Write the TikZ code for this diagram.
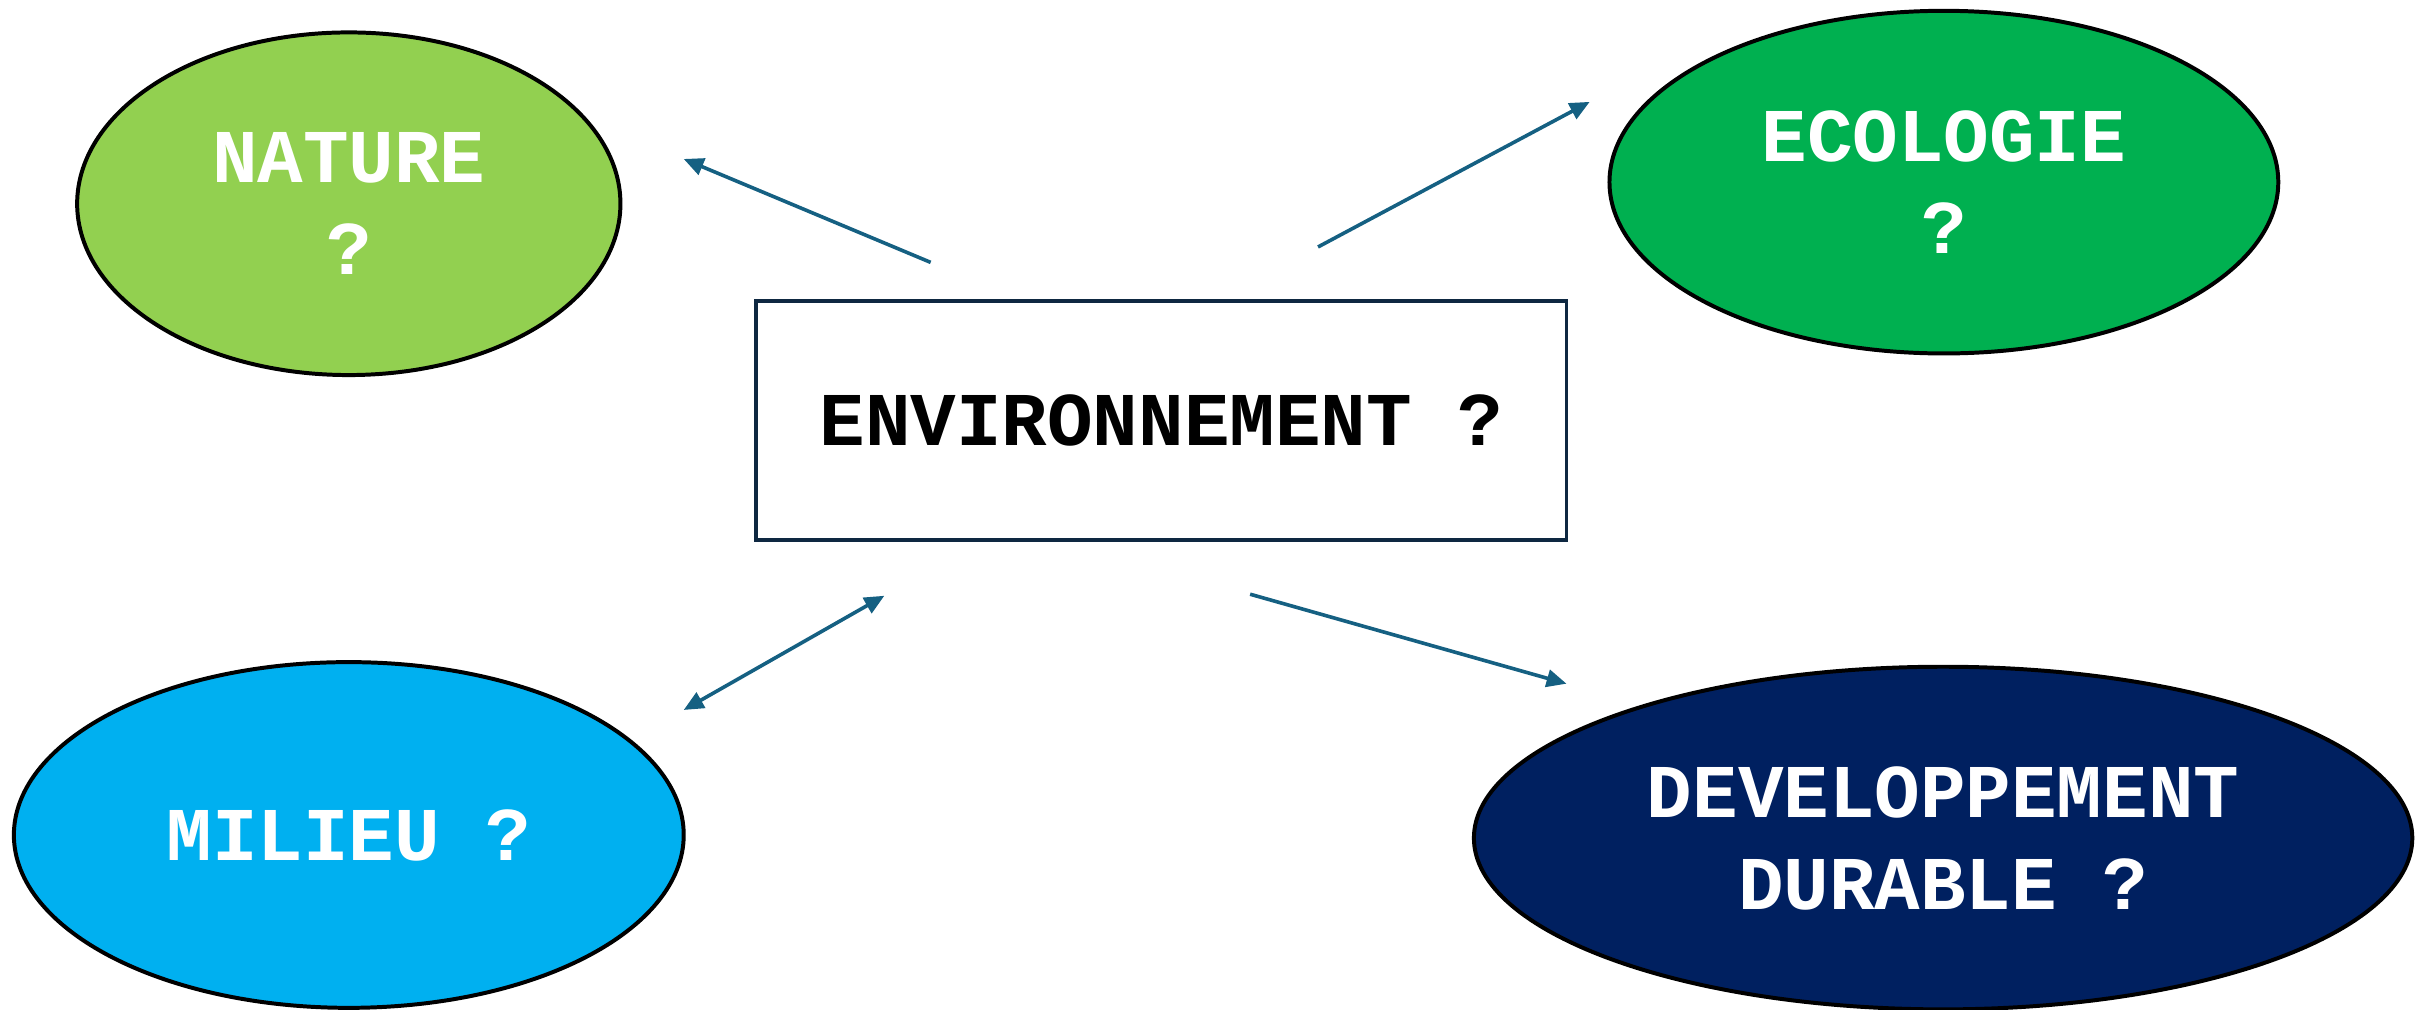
\documentclass[tikz,border=0pt]{standalone}
\usepackage{fontspec}
\setmonofont{Liberation Mono}
\usetikzlibrary{shapes.geometric,arrows.meta}
\definecolor{vertclair}{HTML}{92D050}
\definecolor{vert}{HTML}{00B050}
\definecolor{bleuciel}{HTML}{00B0F0}
\definecolor{bleunuit}{HTML}{002060}
\definecolor{bleufleche}{HTML}{156082}
\definecolor{bordcadre}{HTML}{0E2841}
\tikzset{
  pointe/.tip={Triangle[length=5.5pt,width=4.8pt]},
  texte/.style={font=\ttfamily\bfseries\fontsize{21}{25.4}\selectfont, align=center},
  bulle/.style={texte, ellipse, draw=black, line width=1.1pt, inner sep=0pt, text=white},
  fleche/.style={draw=bleufleche, line width=1pt, -pointe}
}
\begin{document}
\begin{tikzpicture}[x=0.015cm,y=-0.015cm]
\useasboundingbox (0,0) rectangle (1568,654);
\node[texte, draw=bordcadre, line width=1pt, minimum width=7.875cm, minimum height=2.325cm] (env) at (752.5,272.5) {ENVIRONNEMENT ?};

\node[bulle, fill=vertclair, minimum width=5.28cm, minimum height=3.33cm] (nature) at (226,132) {NATURE\\?};
\node[bulle, fill=vert, minimum width=6.5cm, minimum height=3.33cm] (ecologie) at (1259.5,118) {ECOLOGIE\\?};
\node[bulle, fill=bleuciel, minimum width=6.51cm, minimum height=3.36cm] (milieu) at (226,541) {MILIEU ?};
\node[bulle, fill=bleunuit, minimum width=9.12cm, minimum height=3.33cm] (durable) at (1259,543) {DEVELOPPEMENT\\DURABLE ?};

% extremites des fleches
\coordinate (envnature) at (603,170);   \coordinate (versnature) at (443,103);
\coordinate (envecologie) at (854,160); \coordinate (versecologie) at (1030,66);
\coordinate (versmilieu) at (443,460);  \coordinate (envmilieu) at (573,386);
\coordinate (envdurable) at (810,385);  \coordinate (versdurable) at (1015,443);

\draw[fleche] (envnature) -- (versnature);
\draw[fleche] (envecologie) -- (versecologie);
\draw[fleche, pointe-pointe] (versmilieu) -- (envmilieu);
\draw[fleche] (envdurable) -- (versdurable);
\end{tikzpicture}
\end{document}
